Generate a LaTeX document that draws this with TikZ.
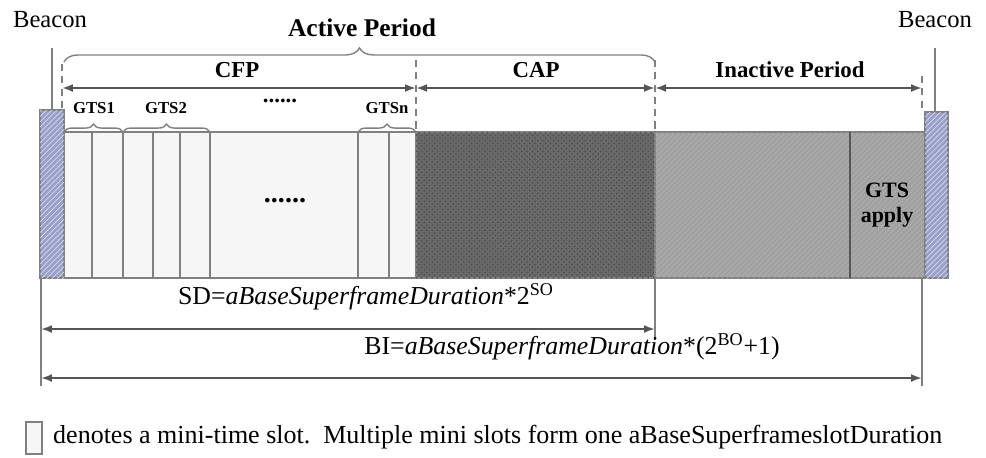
\documentclass[tikz,border=0pt]{standalone}
\usepackage{fontspec}
\setmainfont{Liberation Serif}
\usetikzlibrary{arrows.meta,decorations.pathreplacing,patterns,positioning}
\definecolor{beaconblue}{RGB}{152,160,202}
\definecolor{slotgray}{RGB}{128,128,128}
\definecolor{capgray}{RGB}{105,105,105}
\definecolor{inactgray}{RGB}{168,168,168}
\definecolor{arrgray}{RGB}{85,85,85}
\definecolor{cfpfill}{RGB}{246,246,246}
\tikzset{
  lbl/.style={font=\fontsize{14}{16}\selectfont},
  ttl/.style={font=\fontsize{13}{15}\selectfont\bfseries},
  gts/.style={font=\fontsize{9.5}{11}\selectfont\bfseries},
  dim/.style={{Latex[length=2.2mm,width=1.6mm]}-{Latex[length=2.2mm,width=1.6mm]},line width=1.1pt,color=arrgray},
  guide/.style={draw=slotgray,line width=0.6pt},
  dashguide/.style={draw=slotgray,line width=0.6pt,dash pattern=on 4pt off 3pt},
  brc/.style={decorate,decoration={brace,amplitude=#1},draw=slotgray,line width=0.8pt},
  slotline/.style={draw=slotgray,line width=0.9pt}
}

\begin{document}
\begin{tikzpicture}[x=0.02cm,y=-0.02cm]
  \useasboundingbox (0,0) rectangle (986,457);

  % Titles
  \node[lbl] (beaconL) at (50,20) {Beacon};
  \node[lbl] (beaconR) at (935,20) {Beacon};
  \node[ttl,font=\fontsize{14.5}{16}\selectfont\bfseries] (active) at (362,28) {Active Period};

  % Superframe bar
  \fill[cfpfill] (64,132) rectangle (416,278);
  \foreach \sx in {92,123,153,180,210,358,389}
    \draw[slotline] (\sx,132) -- (\sx,278);
  \draw[slotline] (64,132) rectangle (416,278);
  \draw[slotline,fill=capgray] (416,132) rectangle (655,278);
  \fill[pattern=crosshatch dots,pattern color=black!70] (416,132) rectangle (655,278);
  \draw[slotline,fill=inactgray] (655,132) rectangle (925,278);
  \fill[pattern=north east lines,pattern color=black!40] (655,132) rectangle (925,278);
  \draw[draw=arrgray,line width=0.9pt] (850,132) -- (850,278);
  \node[ttl,font=\fontsize{12.5}{14}\selectfont\bfseries,align=center] (gtsapply) at (887,205) {GTS\\apply};
  \node[font=\fontsize{16}{16}\selectfont\bfseries] (dotsin) at (285,201) {......};

  % Beacons
  \draw[slotline,fill=beaconblue] (40,110) rectangle (64,278);
  \fill[pattern=north east lines,pattern color=white!60!beaconblue] (40,110) rectangle (64,278);
  \draw[slotline,fill=beaconblue] (925,112) rectangle (948,278);
  \fill[pattern=north east lines,pattern color=white!60!beaconblue] (925,112) rectangle (948,278);
  \draw[guide] (52,48) -- (52,110);
  \draw[guide] (935,48) -- (935,112);

  % Period boundaries
  \coordinate (bA) at (62,88);
  \coordinate (bB) at (416,88);
  \coordinate (bC) at (655,88);
  \coordinate (bD) at (922,88);
  \draw[dashguide] (62,64) -- (62,110);
  \draw[dashguide] (416,60) -- (416,132);
  \draw[dashguide] (655,60) -- (655,132);
  \draw[dashguide] (922,76) -- (922,112);

  \draw[brc=8pt] (64,62) -- (655,62);

  \draw[dim] (bA) -- (bB);
  \draw[dim] (bB) -- (bC);
  \draw[dim] (bC) -- (bD);
  \node[ttl] (cfp) at (237,70) {CFP};
  \node[ttl] (cap) at (536,70) {CAP};
  \node[ttl] (inact) at (790,70) {Inactive Period};

  % GTS groups
  \draw[brc=4.5pt] (64,132) -- (123,132);
  \draw[brc=4.5pt] (123,132) -- (210,132);
  \draw[brc=4.5pt] (358,132) -- (416,132);
  \node[gts] (gts1) at (94,108) {GTS1};
  \node[gts] (gts2) at (166,108) {GTS2};
  \node[gts] (gtsn) at (387,108) {GTSn};
  \node[font=\fontsize{13}{13}\selectfont\bfseries] (dotsup) at (280,101) {......};

  % Durations
  \coordinate (sdL) at (41,329);
  \coordinate (sdR) at (655,329);
  \coordinate (biL) at (41,378);
  \coordinate (biR) at (922,378);
  \draw[guide] (41,278) -- (41,386);
  \draw[guide] (655,278) -- (655,340);
  \draw[guide] (922,278) -- (922,386);
  \draw[dim] (sdL) -- (sdR);
  \draw[dim] (biL) -- (biR);
  \node[lbl,font=\fontsize{14.7}{16}\selectfont] (sd) at (366,297) {SD=\textit{aBaseSuperframeDuration}*2\textsuperscript{SO}};
  \node[lbl,font=\fontsize{14.7}{16}\selectfont] (bi) at (572,347) {BI=\textit{aBaseSuperframeDuration}*(2\textsuperscript{BO}+1)};

  % Legend
  \draw[slotline,fill=cfpfill] (26,422) rectangle (42,454);
  \node[lbl,font=\fontsize{14.8}{16}\selectfont,anchor=west] (legend) at (47,437) {denotes a mini-time slot.\ \ Multiple mini slots form one aBaseSuperframeslotDuration};
\end{tikzpicture}
\end{document}
